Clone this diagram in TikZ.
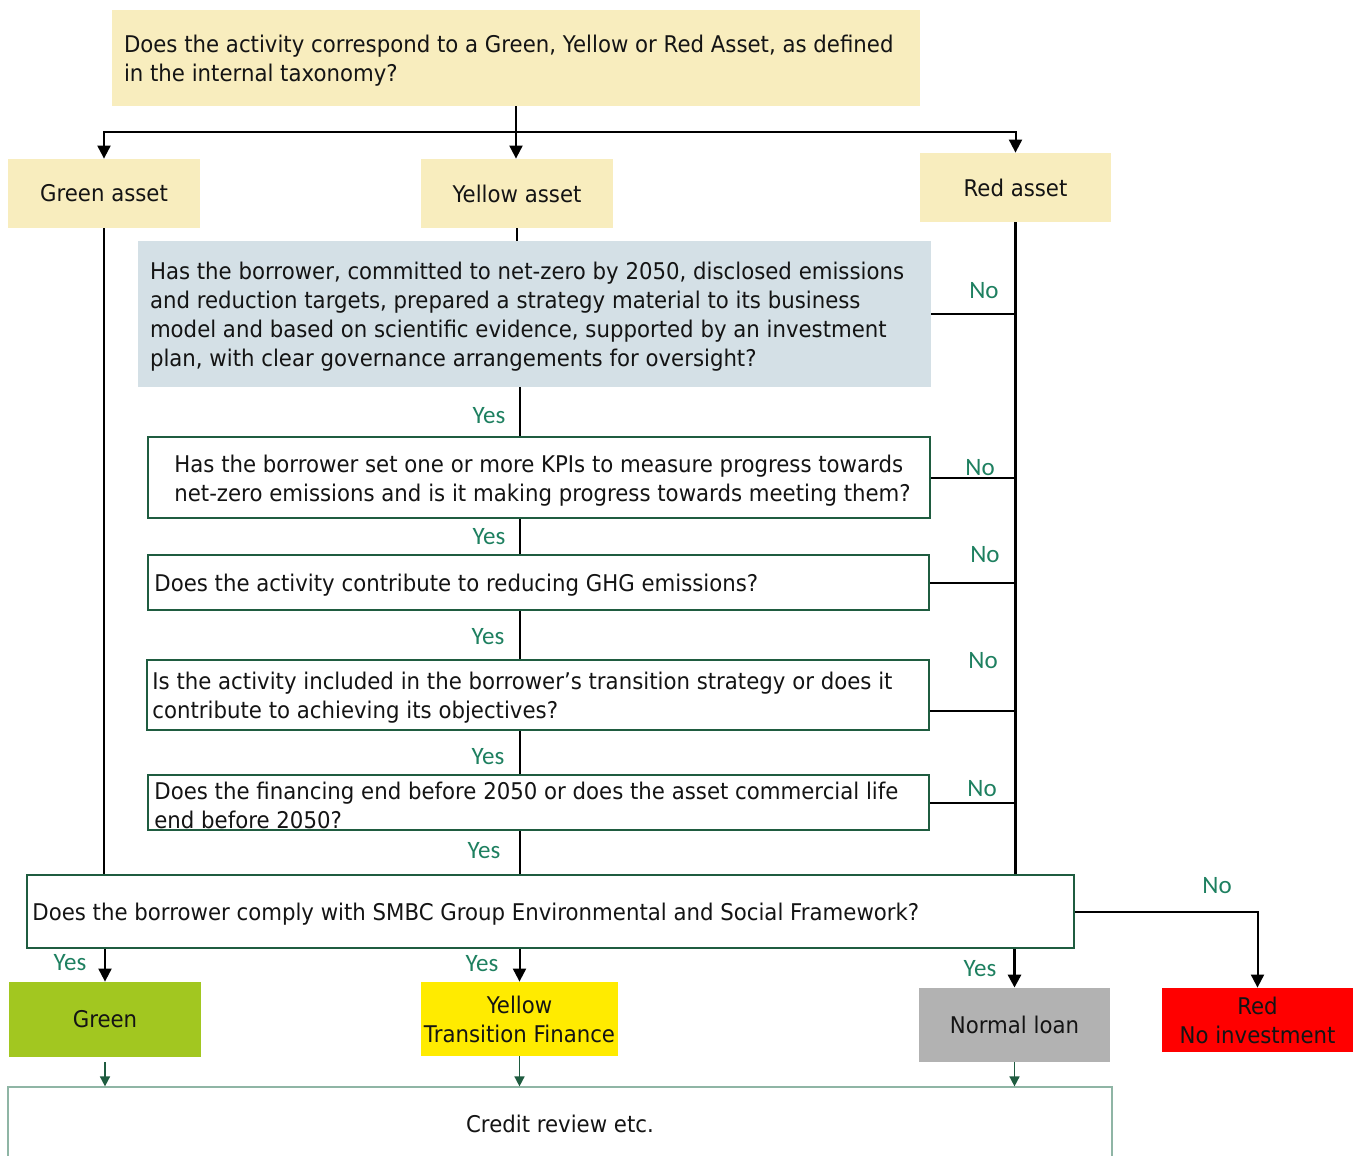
\documentclass[tikz,border=0pt]{standalone}
\usepackage{fontspec}
\setmainfont{DejaVu Sans}[FakeStretch=0.925]
\newfontfamily\labfont{Carlito}
\usetikzlibrary{arrows.meta,calc}
\definecolor{paleyel}{HTML}{F8EDBE}
\definecolor{paleblue}{HTML}{D4E0E6}
\definecolor{dkgreen}{HTML}{1F5C40}
\definecolor{labgreen}{HTML}{1E8060}
\definecolor{leafgreen}{HTML}{A2C720}
\definecolor{brightyel}{HTML}{FFEB00}
\definecolor{midgray}{HTML}{B2B2B2}
\definecolor{crborder}{HTML}{8FB5A5}
\definecolor{txt}{HTML}{141414}
\tikzset{
  every node/.style={font=\fontsize{11.5}{14.5}\selectfont, text=txt},
  filled/.style={draw=none, inner sep=0pt, align=center},
  qbox/.style={draw=dkgreen, line width=1pt, fill=white, inner sep=0pt},
  qtext/.style={anchor=west, align=left, inner sep=0pt, yshift=-1.5pt},
  lab/.style={font=\labfont\fontsize{12.5}{14}\selectfont, text=labgreen, inner sep=0pt},
  conn/.style={draw=black, line width=1pt},
  arr/.style={conn, -{Triangle[length=6.5pt,width=6.5pt]}},
  garr/.style={draw=dkgreen, line width=0.8pt, -{Triangle[length=5pt,width=5pt]}},
}
\begin{document}
\begin{tikzpicture}[x=0.5pt,y=-0.5pt]
\useasboundingbox[fill=white] (0,0) rectangle (1355,1156);
% top question
\node[filled, fill=paleyel, minimum width=404pt, minimum height=48pt] (top) at (516,58) {};
\node[qtext] (topt) at ([xshift=6pt]top.west)
  {Does the activity correspond to a Green, Yellow or Red Asset, as defined\\in the internal taxonomy?};
\node[filled, fill=paleyel, minimum width=96pt, minimum height=34.5pt] (ga) at (104,193.5) {Green asset};
\node[filled, fill=paleyel, minimum width=96pt, minimum height=34.5pt] (ya) at (517,193.5) {Yellow asset};
\node[filled, fill=paleyel, minimum width=95.5pt, minimum height=34.5pt] (ra) at (1015.5,187.5) {Red asset};
% questions
\node[filled, fill=paleblue, minimum width=396.5pt, minimum height=73pt] (q1) at (534.5,314) {};
\node[qtext] (q1t) at ([xshift=6pt]q1.west)
  {Has the borrower, committed to net-zero by 2050, disclosed emissions\\and reduction targets, prepared a strategy material to its business\\model and based on scientific evidence, supported by an investment\\plan, with clear governance arrangements for oversight?};
\node[qbox, minimum width=391pt, minimum height=40.5pt] (q2) at (539,477.5) {};
\node[qtext] (q2t) at ([xshift=13.5pt]q2.west)
  {Has the borrower set one or more KPIs to measure progress towards\\net-zero emissions and is it making progress towards meeting them?};
\node[qbox, minimum width=390.5pt, minimum height=27.5pt] (q3) at (538.5,582.5) {};
\node[qtext] (q3t) at ([xshift=3.5pt]q3.west)
  {Does the activity contribute to reducing GHG emissions?};
\node[qbox, minimum width=391pt, minimum height=35pt] (q4) at (538,695) {};
\node[qtext] (q4t) at ([xshift=3pt]q4.west)
  {Is the activity included in the borrower’s transition strategy or does it\\contribute to achieving its objectives?};
\node[qbox, minimum width=390.5pt, minimum height=27.5pt] (q5) at (538.5,802.5) {};
\node[qtext] (q5t) at ([xshift=3.5pt]q5.west)
  {Does the financing end before 2050 or does the asset commercial life\\end before 2050?};
\node[qbox, minimum width=523.5pt, minimum height=36.5pt] (q6) at (550.5,911.5) {};
\node[qtext] (q6t) at ([xshift=3pt]q6.west)
  {Does the borrower comply with SMBC Group Environmental and Social Framework?};
% outcomes
\node[filled, fill=leafgreen, minimum width=96pt, minimum height=37.5pt] (g) at (105,1019.5) {Green};
\node[filled, fill=brightyel, minimum width=98.5pt, minimum height=37pt] (yt) at (519.5,1019) {Yellow\\Transition Finance};
\node[filled, fill=midgray, minimum width=95.5pt, minimum height=37pt] (nl) at (1014.5,1025) {Normal loan};
\node[filled, fill=red, minimum width=95.5pt, minimum height=32pt] (rn) at (1257.5,1020) {Red\\No investment};
\node[draw=crborder, line width=0.6pt, minimum width=552pt, minimum height=37pt, inner sep=0pt] (cr) at (560,1124) {Credit review etc.};
% connectors top
\coordinate (j) at (516,132);
\draw[arr] (top.south) -- (top.south |- ya.north);
\draw[arr] (j) -| (ga.north);
\draw[arr] (j) -| (ra.north);
\draw[conn] (ya.south) -- (ya.south |- q1.north);
% middle chain
\draw[conn] (q1.south -| yt.north) -- (q2.north -| yt.north);
\draw[conn] (q2.south -| yt.north) -- (q3.north -| yt.north);
\draw[conn] (q3.south -| yt.north) -- (q4.north -| yt.north);
\draw[conn] (q4.south -| yt.north) -- (q5.north -| yt.north);
\draw[conn] (q5.south -| yt.north) -- (q6.north -| yt.north);
\draw[arr] (q6.south -| yt.north) -- (yt.north);
% left spine
\draw[conn] (ga.south) -- (ga.south |- q6.north);
\draw[arr] (q6.south -| g.north) -- (g.north);
% right spine
\draw[conn, line width=1.5pt] (ra.south) -- (ra.south |- q6.north);
\draw[arr, line width=1.5pt] (q6.south -| nl.north) -- (nl.north);
\draw[conn] (q1.east) -- (q1.east -| ra.south);
\draw[conn] (q2.east) -- (q2.east -| ra.south);
\draw[conn] (q3.east) -- (q3.east -| ra.south);
\draw[conn] ([yshift=-8pt]q4.east) -- ([yshift=-8pt]q4.east -| ra.south);
\draw[conn] (q5.east) -- (q5.east -| ra.south);
\draw[arr] (q6.east) -| (rn.north);
% to credit review
\draw[garr] ([yshift=-2.5pt]g.south) -- (g.south |- cr.north);
\draw[garr] (yt.south) -- (yt.south |- cr.north);
\draw[garr] (nl.south) -- (nl.south |- cr.north);
% labels
\node[lab] (n1) at (984,291) {No};
\node[lab] (n2) at (980,468) {No};
\node[lab] (n3) at (985,555) {No};
\node[lab] (n4) at (983,661) {No};
\node[lab] (n5) at (982,789) {No};
\node[lab] (n6) at (1217,886) {No};
\node[lab] (y1) at (489,416) {Yes};
\node[lab] (y2) at (489,537) {Yes};
\node[lab] (y3) at (488,637) {Yes};
\node[lab] (y4) at (488,757) {Yes};
\node[lab] (y5) at (484,851) {Yes};
\node[lab] (y6) at (70,963) {Yes};
\node[lab] (y7) at (482,964) {Yes};
\node[lab] (y8) at (980,969) {Yes};
\end{tikzpicture}
\end{document}
